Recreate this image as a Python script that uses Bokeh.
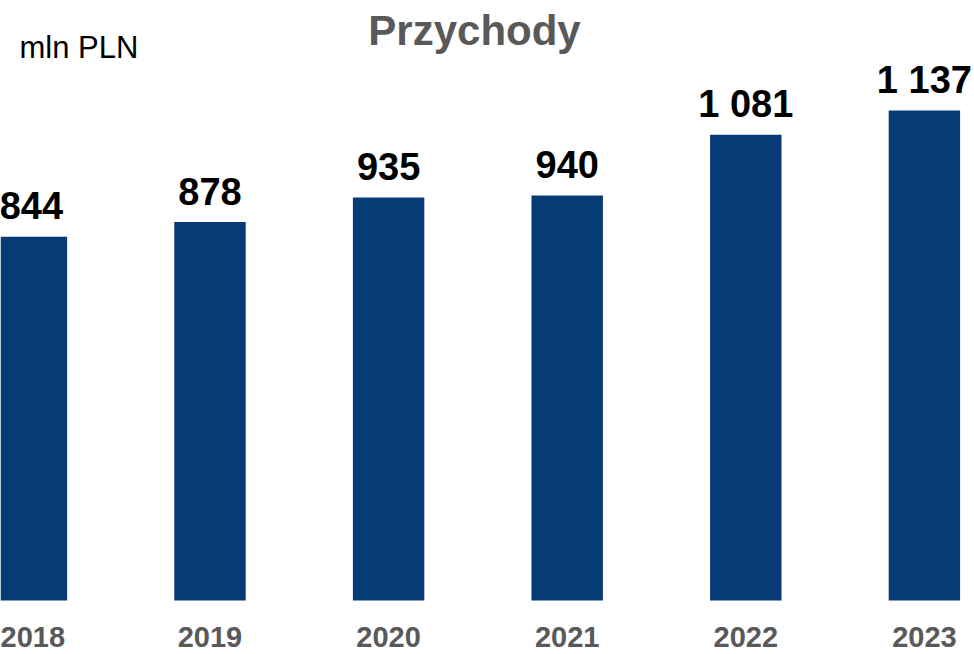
from bokeh.plotting import figure
from bokeh.models import ColumnDataSource, Range1d, FixedTicker, Label
from bokeh.embed import file_html
from bokeh.resources import INLINE

# ---- data ----
years = [2018, 2019, 2020, 2021, 2022, 2023]
revenue = [844, 878, 935, 940, 1081, 1137]
value_labels = [f"{v:,}".replace(",", " ") for v in revenue]
year_labels = [str(y) for y in years]
title_text = "Przychody"
unit_text = "mln PLN"

# ---- layout (pixel geometry of the reference) ----
W, H = 974, 654
AXIS_H = 48                  # panel below the frame
PX_PER_YEAR = 178.6
PX_PER_UNIT = 490 / 1137
BASE_PY = 600                # figure y of value 0
X_REF_PX = 209.5             # figure x of 2019 bar centre
frame_bottom = H - AXIS_H

x_start = 2019 - X_REF_PX / PX_PER_YEAR
x_end = x_start + W / PX_PER_YEAR
y_start = (BASE_PY - frame_bottom) / PX_PER_UNIT
y_end = BASE_PY / PX_PER_UNIT


def px_x(px):
    return x_start + px / PX_PER_YEAR


def px_y(py):
    return (BASE_PY - py) / PX_PER_UNIT


BAR_COLOR = "#063b75"
GRAY = "#595959"
FONT = "Liberation Sans"

src = ColumnDataSource(dict(year=years, value=revenue, label=value_labels))

p = figure(width=W, height=H, output_backend="svg", toolbar_location=None,
           x_range=Range1d(x_start, x_end), y_range=Range1d(y_start, y_end),
           min_border_left=0, min_border_right=0, min_border_top=0,
           min_border_bottom=AXIS_H)
p.outline_line_color = None
p.background_fill_color = "white"
p.border_fill_color = "white"
p.xgrid.visible = False
p.ygrid.visible = False
p.yaxis.visible = False

p.vbar(x="year", top="value", width=0.4, source=src,
       fill_color=BAR_COLOR, line_color=None)

p.text(x="year", y="value", text="label", source=src, y_offset=-31,
       text_align="center", text_baseline="alphabetic",
       text_font_size="38px", text_font_style="bold", text_color="black",
       text_font={"value": FONT})

ax = p.xaxis[0]
ax.ticker = FixedTicker(ticks=years)
ax.major_label_overrides = {y: s for y, s in zip(years, year_labels)}
ax.axis_line_color = None
ax.major_tick_line_color = None
ax.minor_tick_line_color = None
ax.major_tick_in = 0
ax.major_tick_out = 0
ax.minor_tick_in = 0
ax.minor_tick_out = 0
ax.major_label_standoff = 20
ax.major_label_text_font = FONT
ax.major_label_text_font_size = "29px"
ax.major_label_text_font_style = "bold"
ax.major_label_text_color = GRAY

p.add_layout(Label(x=px_x(474), y=px_y(30), text=title_text,
                   text_align="center", text_baseline="alphabetic",
                   text_font=FONT, text_font_size="42px",
                   text_font_style="bold", text_color=GRAY))
p.add_layout(Label(x=px_x(19), y=px_y(47), text=unit_text,
                   text_align="left", text_baseline="alphabetic",
                   text_font=FONT, text_font_size="31px",
                   text_color="black"))

open("out.html", "w").write(file_html(p, INLINE))
